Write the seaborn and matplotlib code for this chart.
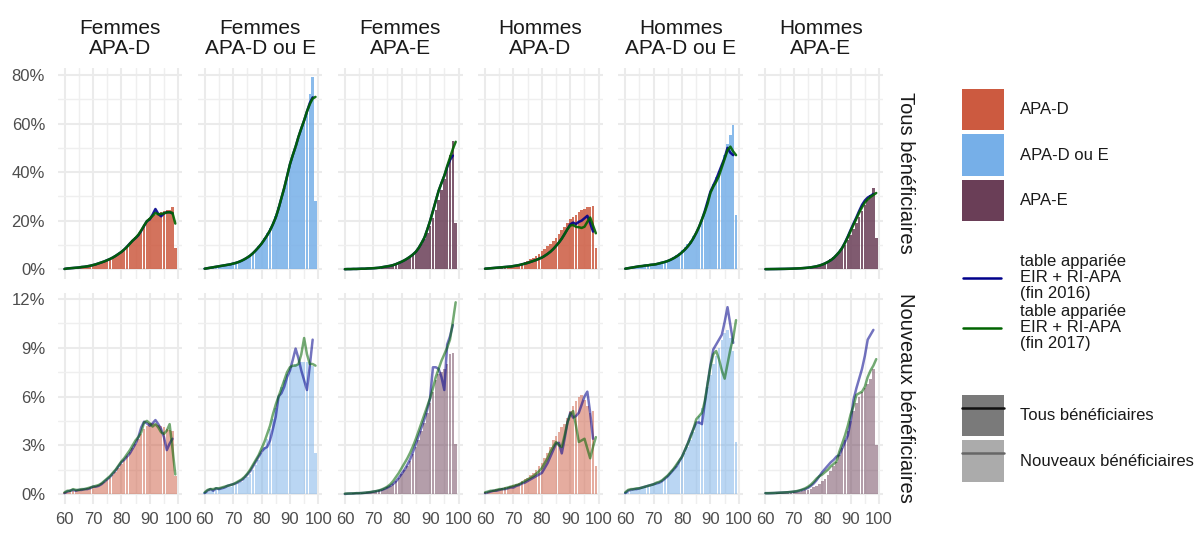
import matplotlib
matplotlib.use("Agg")
import matplotlib.pyplot as plt
import seaborn as sns
from matplotlib.patches import Patch
from matplotlib.lines import Line2D
from matplotlib.legend_handler import HandlerTuple
from matplotlib.ticker import MultipleLocator, FuncFormatter

# ---------------- data (values in %) ----------------
ages_bar = list(range(60, 100))   # bars
ages_2016 = list(range(60, 99))   # table appariée fin 2016
ages_2017 = list(range(60, 100))  # table appariée fin 2017

sexes = ["Femmes", "Hommes"]
apa_types = ["APA-D", "APA-D ou E", "APA-E"]
row_labels = ["Tous bénéficiaires", "Nouveaux bénéficiaires"]

# --- Tous bénéficiaires ---
bar_F_D_tous = [0.2,0.3,0.4,0.5,0.6,0.7,0.9,1.0,1.2,1.5, 1.8,2.1,2.5,2.9,3.3,3.8,4.4,5.0,5.7,6.4,
                7.2,8.2,9.3,10.6,12.0,13.2,14.5,16.2,18.3,20.0, 21.0,21.8,22.5,23.0,23.5,23.8,24.2,24.5,25.8,8.6]
l16_F_D_tous = [0.1,0.3,0.4,0.5,0.6,0.7,0.9,1.0,1.2,1.4, 1.7,2.0,2.4,2.8,3.2,3.7,4.2,4.8,5.5,6.3,
                7.1,8.1,9.3,10.6,11.8,12.8,14.0,15.8,17.8,19.8, 20.5,22.5,24.8,22.8,21.8,23.0,23.5,23.5,23.0]
l17_F_D_tous = [0.1,0.3,0.4,0.5,0.6,0.7,0.9,1.0,1.2,1.4, 1.7,2.0,2.4,2.8,3.2,3.7,4.2,4.8,5.5,6.3,
                7.1,8.1,9.2,10.5,11.8,12.9,14.2,16.0,18.0,19.8, 20.8,22.0,23.2,22.6,22.8,23.0,23.4,23.5,23.2,18.8]

bar_F_DE_tous = [0.3,0.5,0.6,0.8,1.0,1.2,1.4,1.6,1.8,2.0, 2.3,2.7,3.2,3.8,4.4,5.2,6.0,7.0,8.2,9.5,
                 11.0,12.8,14.8,17.0,19.5,22.0,25.5,29.5,33.5,38.5, 43.0,46.5,50.0,54.0,58.0,61.5,65.5,72.0,79.0,28.0]
l16_F_DE_tous = [0.2,0.4,0.6,0.8,1.0,1.2,1.4,1.6,1.8,2.0, 2.3,2.6,3.0,3.5,4.1,4.8,5.6,6.6,7.8,9.1,
                 10.5,12.2,14.0,16.0,18.5,21.3,25.0,29.3,33.5,38.3, 43.2,47.0,50.5,54.5,58.0,61.3,65.0,68.5,70.8]
l17_F_DE_tous = [0.2,0.4,0.6,0.8,1.0,1.2,1.4,1.6,1.8,2.0, 2.3,2.6,3.0,3.5,4.1,4.8,5.6,6.6,7.8,9.1,
                 10.5,12.2,14.0,16.0,18.5,21.3,25.0,29.3,33.5,38.3, 43.2,47.0,50.5,54.5,58.0,61.3,65.0,68.0,70.3,71.0]

bar_F_E_tous = [0.05,0.05,0.1,0.1,0.1,0.15,0.2,0.2,0.3,0.3, 0.4,0.5,0.6,0.7,0.9,1.1,1.3,1.6,2.0,2.4,
                2.9,3.5,4.2,5.1,6.1,7.3,8.8,10.5,12.6,15.0, 17.8,21.0,24.5,28.5,32.5,37.0,41.5,47.0,53.0,19.0]
l16_F_E_tous = [0.0,0.05,0.05,0.1,0.1,0.15,0.2,0.2,0.3,0.35, 0.4,0.5,0.6,0.8,1.0,1.2,1.4,1.7,2.1,2.6,
                3.1,3.7,4.4,5.2,6.1,7.2,8.8,10.8,13.0,16.3, 19.9,24.0,28.2,32.3,35.5,38.5,42.0,45.0,46.8]
l17_F_E_tous = [0.0,0.05,0.05,0.1,0.1,0.15,0.2,0.2,0.3,0.35, 0.4,0.5,0.6,0.8,1.0,1.2,1.4,1.7,2.1,2.6,
                3.1,3.7,4.4,5.2,6.1,7.2,8.8,10.8,13.0,16.3, 19.9,24.0,28.2,32.3,35.5,38.5,42.5,46.0,49.5,52.5]

bar_H_D_tous = [0.3,0.4,0.5,0.6,0.7,0.8,0.9,1.0,1.2,1.4, 1.6,1.9,2.2,2.6,3.0,3.5,4.1,4.8,5.5,6.4,
                7.3,8.3,9.4,10.5,11.8,13.0,14.5,16.0,17.5,19.0, 20.5,21.5,22.5,23.5,24.3,25.0,25.5,25.8,26.0,8.8]
l16_H_D_tous = [0.2,0.3,0.4,0.5,0.6,0.7,0.8,0.9,1.0,1.1, 1.3,1.5,1.7,2.0,2.3,2.6,3.0,3.4,3.8,4.3,
                4.8,5.5,6.3,7.2,8.3,9.6,11.0,12.6,14.5,16.5, 18.5,19.2,18.6,19.5,20.0,21.0,22.0,19.0,15.5]
l17_H_D_tous = [0.2,0.3,0.4,0.5,0.6,0.7,0.8,0.9,1.0,1.1, 1.3,1.5,1.7,2.0,2.3,2.6,3.0,3.4,3.8,4.3,
                4.8,5.5,6.3,7.2,8.3,9.6,11.0,12.6,14.5,16.5, 18.0,18.2,17.5,17.3,17.0,17.5,19.5,21.3,18.0,14.8]

bar_H_DE_tous = [0.3,0.4,0.6,0.7,0.9,1.0,1.2,1.4,1.6,1.8, 2.0,2.3,2.6,2.9,3.3,3.8,4.4,5.1,5.9,6.8,
                 7.8,9.0,10.3,11.8,13.5,15.3,17.5,20.5,23.5,27.5, 31.5,35.0,38.0,40.5,43.5,47.0,51.5,55.5,59.5,22.5]
l16_H_DE_tous = [0.2,0.4,0.6,0.8,1.0,1.2,1.3,1.5,1.6,1.8, 1.9,2.1,2.4,2.7,3.0,3.4,3.9,4.5,5.2,6.0,
                 7.0,8.1,9.4,10.9,12.8,15.0,17.5,20.5,24.0,28.0, 32.0,34.5,37.0,40.0,43.0,46.0,50.0,48.0,47.0]
l17_H_DE_tous = [0.2,0.4,0.6,0.8,1.0,1.2,1.3,1.5,1.6,1.8, 1.9,2.1,2.4,2.7,3.0,3.4,3.9,4.5,5.2,6.0,
                 7.0,8.1,9.4,10.9,12.8,15.0,17.5,20.5,23.5,27.0, 31.5,34.0,36.0,38.5,42.0,45.5,49.0,50.5,48.5,47.0]

bar_H_E_tous = [0.05,0.05,0.1,0.1,0.1,0.15,0.15,0.2,0.2,0.3, 0.35,0.4,0.5,0.6,0.7,0.8,1.0,1.2,1.5,1.8,
                2.2,2.7,3.3,4.0,4.9,5.9,7.1,8.5,10.1,12.0, 14.2,16.5,19.0,21.5,24.0,26.5,28.5,30.5,33.5,13.0]
l16_H_E_tous = [0.02,0.03,0.05,0.06,0.08,0.1,0.12,0.14,0.17,0.2, 0.25,0.3,0.36,0.43,0.52,0.63,0.78,0.97,1.2,1.5,
                1.9,2.4,3.0,3.7,4.6,5.8,7.1,8.8,11.0,13.5, 16.2,18.8,21.3,24.0,26.5,28.3,29.5,30.2,31.0]
l17_H_E_tous = [0.02,0.03,0.05,0.06,0.08,0.1,0.12,0.14,0.17,0.2, 0.25,0.3,0.36,0.43,0.52,0.63,0.78,0.97,1.2,1.5,
                1.9,2.4,3.0,3.7,4.6,5.8,7.1,8.7,10.8,13.2, 15.8,18.3,20.8,23.3,25.5,27.5,28.8,29.8,30.6,31.4]

# --- Nouveaux bénéficiaires ---
bar_F_D_nouv = [0.1,0.15,0.2,0.2,0.25,0.25,0.3,0.3,0.35,0.4, 0.45,0.5,0.55,0.65,0.75,0.85,1.0,1.15,1.35,1.6,
                1.85,2.1,2.35,2.6,2.85,3.1,3.4,3.7,4.0,4.2, 4.35,4.35,4.3,4.25,4.2,4.1,4.0,3.95,3.85,1.1]
l16_F_D_nouv = [0.05,0.15,0.2,0.25,0.2,0.25,0.25,0.3,0.3,0.35, 0.45,0.45,0.5,0.6,0.75,0.9,1.05,1.25,1.45,1.7,
                1.95,2.1,2.3,2.5,2.8,3.1,3.5,4.1,4.45,4.35, 4.2,4.35,4.55,4.3,4.0,3.5,2.7,3.1,3.4]
l17_F_D_nouv = [0.1,0.2,0.2,0.3,0.25,0.25,0.3,0.3,0.35,0.4, 0.45,0.5,0.55,0.65,0.8,0.95,1.1,1.3,1.5,1.75,
                2.0,2.2,2.45,2.7,3.0,3.3,3.5,3.8,4.4,4.5, 4.35,4.15,4.3,4.1,3.8,3.7,3.9,4.3,2.8,1.2]

bar_F_DE_nouv = [0.1,0.15,0.2,0.25,0.25,0.3,0.3,0.35,0.4,0.45, 0.5,0.55,0.65,0.75,0.9,1.05,1.25,1.5,1.8,2.1,
                 2.5,2.9,3.4,4.0,4.6,5.3,6.0,6.6,7.0,7.4, 7.7,7.9,8.0,8.0,8.1,8.1,8.1,8.0,7.9,2.5]
l16_F_DE_nouv = [0.05,0.2,0.3,0.2,0.35,0.3,0.35,0.4,0.5,0.55, 0.6,0.65,0.75,0.85,1.0,1.2,1.4,1.7,2.0,2.3,
                 2.6,2.8,2.9,3.3,4.0,4.75,6.0,6.2,6.6,7.2, 7.6,8.25,8.95,8.35,7.6,7.0,6.4,7.9,9.5]
l17_F_DE_nouv = [0.1,0.25,0.3,0.3,0.35,0.35,0.4,0.45,0.5,0.55, 0.6,0.7,0.8,0.9,1.05,1.25,1.5,1.8,2.1,2.4,
                 2.8,3.2,3.7,4.2,4.9,5.5,6.0,6.5,7.0,7.5, 7.8,7.9,7.9,8.0,8.6,9.6,8.6,8.0,8.0,7.9]

bar_F_E_nouv = [0.02,0.03,0.03,0.04,0.05,0.05,0.06,0.08,0.1,0.12, 0.15,0.18,0.22,0.27,0.33,0.4,0.5,0.62,0.78,0.98,
                1.2,1.45,1.75,2.05,2.45,2.9,3.35,3.85,4.4,5.0, 5.6,6.3,7.0,7.4,7.5,7.7,8.0,8.6,8.7,3.1]
l16_F_E_nouv = [0.0,0.02,0.03,0.03,0.05,0.05,0.06,0.07,0.09,0.11, 0.14,0.17,0.2,0.25,0.32,0.4,0.5,0.62,0.78,1.0,
                1.25,1.5,1.8,2.15,2.6,3.1,3.6,4.1,4.6,5.2, 5.9,7.8,7.8,7.7,7.2,6.4,9.2,9.7,10.4]
l17_F_E_nouv = [0.02,0.03,0.03,0.04,0.05,0.05,0.06,0.08,0.1,0.12, 0.15,0.18,0.22,0.28,0.36,0.46,0.6,0.8,1.05,1.3,
                1.6,1.9,2.2,2.55,2.95,3.4,3.9,4.4,4.9,5.4, 5.9,6.5,7.2,7.7,8.2,8.6,9.0,9.5,10.6,11.8]

bar_H_D_nouv = [0.1,0.15,0.2,0.25,0.3,0.3,0.35,0.4,0.45,0.5, 0.55,0.6,0.7,0.8,0.9,1.0,1.15,1.3,1.5,1.7,
                1.9,2.2,2.5,2.9,3.3,3.6,3.8,4.1,4.3,4.7, 5.1,5.4,5.7,6.0,6.1,5.8,5.4,5.0,5.1,1.7]
l16_H_D_nouv = [0.05,0.1,0.15,0.2,0.2,0.25,0.3,0.3,0.35,0.4, 0.4,0.5,0.55,0.65,0.7,0.8,0.9,1.0,1.1,1.2,
                1.3,1.6,1.9,2.3,2.7,3.1,3.15,2.5,3.4,4.4, 5.0,4.7,4.8,5.0,5.5,6.0,6.3,5.0,3.4]
l17_H_D_nouv = [0.1,0.15,0.2,0.2,0.25,0.3,0.3,0.35,0.4,0.45, 0.5,0.55,0.6,0.7,0.8,0.9,1.0,1.1,1.25,1.4,
                1.6,1.9,2.2,2.6,2.9,3.2,3.0,2.9,3.6,4.4, 4.9,5.1,4.2,3.2,3.3,3.4,2.8,2.2,2.9,3.5]

bar_H_DE_nouv = [0.1,0.15,0.2,0.25,0.3,0.3,0.35,0.4,0.45,0.5, 0.55,0.6,0.7,0.8,0.95,1.1,1.3,1.5,1.7,2.0,
                 2.2,2.5,2.9,3.3,3.8,4.3,4.8,5.3,5.9,6.6, 7.3,8.0,8.5,9.0,9.5,9.9,10.1,9.6,8.8,3.2]
l16_H_DE_nouv = [0.05,0.2,0.25,0.3,0.3,0.35,0.4,0.45,0.5,0.55, 0.6,0.65,0.7,0.8,0.95,1.1,1.3,1.5,1.7,2.0,
                 2.3,2.7,3.1,3.6,4.0,4.4,4.4,4.3,5.6,6.8, 7.95,8.9,9.2,9.5,9.8,10.6,11.5,10.4,9.3]
l17_H_DE_nouv = [0.1,0.25,0.3,0.3,0.35,0.35,0.4,0.45,0.5,0.55, 0.6,0.7,0.75,0.85,1.0,1.15,1.35,1.55,1.8,2.05,
                 2.3,2.7,3.1,3.5,4.0,4.6,4.8,5.0,5.7,6.8, 7.85,8.6,8.8,8.3,7.6,7.1,8.0,8.9,9.6,10.7]

bar_H_E_nouv = [0.02,0.02,0.03,0.03,0.04,0.05,0.05,0.06,0.07,0.08, 0.1,0.12,0.15,0.18,0.22,0.27,0.33,0.4,0.5,0.62,
                0.78,0.95,1.15,1.4,1.7,2.0,2.4,2.85,3.35,3.9, 4.5,5.1,5.6,6.0,6.3,6.5,6.8,7.1,7.7,3.0]
l16_H_E_nouv = [0.05,0.05,0.05,0.06,0.07,0.08,0.09,0.1,0.11,0.12, 0.14,0.16,0.2,0.25,0.3,0.38,0.5,0.65,0.85,1.1,
                1.35,1.55,1.75,1.95,2.1,2.3,2.4,2.8,3.2,3.6, 4.5,5.8,6.5,7.1,7.7,8.5,9.5,9.8,10.1]
l17_H_E_nouv = [0.05,0.05,0.06,0.06,0.07,0.08,0.09,0.1,0.11,0.13, 0.15,0.18,0.22,0.28,0.35,0.45,0.58,0.75,0.95,1.1,
                1.2,1.35,1.5,1.7,1.85,2.0,2.6,3.1,3.6,4.2, 4.9,5.4,6.1,6.2,6.3,6.6,7.2,7.6,7.9,8.3]

bars = [[bar_F_D_tous, bar_F_DE_tous, bar_F_E_tous, bar_H_D_tous, bar_H_DE_tous, bar_H_E_tous],
        [bar_F_D_nouv, bar_F_DE_nouv, bar_F_E_nouv, bar_H_D_nouv, bar_H_DE_nouv, bar_H_E_nouv]]
lines16 = [[l16_F_D_tous, l16_F_DE_tous, l16_F_E_tous, l16_H_D_tous, l16_H_DE_tous, l16_H_E_tous],
           [l16_F_D_nouv, l16_F_DE_nouv, l16_F_E_nouv, l16_H_D_nouv, l16_H_DE_nouv, l16_H_E_nouv]]
lines17 = [[l17_F_D_tous, l17_F_DE_tous, l17_F_E_tous, l17_H_D_tous, l17_H_DE_tous, l17_H_E_tous],
           [l17_F_D_nouv, l17_F_DE_nouv, l17_F_E_nouv, l17_H_D_nouv, l17_H_DE_nouv, l17_H_E_nouv]]

# ---------------- style ----------------
fill_colors = {"APA-D": "#CC5A40", "APA-D ou E": "#76AFE8", "APA-E": "#6A3E57"}
col_2016 = "#00008B"
col_2017 = "#006400"
row_alpha = [0.85, 0.5]
line_alpha = [0.9, 0.55]

sns.set_theme(style="white")
FAM = ["Liberation Sans", "DejaVu Sans"]
plt.rcParams["font.family"] = FAM

fig, axes = plt.subplots(2, 6, figsize=(11.99, 5.33), dpi=100)
fig.subplots_adjust(left=0.048, right=0.7366, top=0.8726, bottom=0.0552,
                    wspace=0.124, hspace=0.066)

ylims = [(-3.95, 82.95), (-0.59, 12.39)]
ymajor = [20, 3]
yminor = [10, 1.5]

for r in range(2):
    for c in range(6):
        ax = axes[r, c]
        sex = sexes[c // 3]
        typ = apa_types[c % 3]
        sns.barplot(x=ages_bar, y=bars[r][c], native_scale=True, width=0.9,
                    color=fill_colors[typ], saturation=1, alpha=row_alpha[r],
                    errorbar=None, linewidth=0, ax=ax, zorder=2)
        sns.lineplot(x=ages_2016, y=lines16[r][c], color=col_2016, linewidth=1.8,
                     alpha=line_alpha[r], ax=ax, zorder=3)
        sns.lineplot(x=ages_2017, y=lines17[r][c], color=col_2017, linewidth=1.8,
                     alpha=line_alpha[r], ax=ax, zorder=4)
        ax.set_xlim(57.55, 101.45)
        ax.set_ylim(*ylims[r])
        ax.xaxis.set_major_locator(MultipleLocator(10))
        ax.xaxis.set_minor_locator(MultipleLocator(5))
        ax.yaxis.set_major_locator(MultipleLocator(ymajor[r]))
        ax.yaxis.set_minor_locator(MultipleLocator(yminor[r]))
        ax.yaxis.set_major_formatter(FuncFormatter(lambda v, p: f"{v:.0f}%"))
        ax.set_axisbelow(True)
        ax.grid(which="major", color="#EBEBEB", linewidth=1.5)
        ax.grid(which="minor", color="#EFEFEF", linewidth=1.0)
        for s in ax.spines.values():
            s.set_visible(False)
        ax.tick_params(which="both", length=0, labelsize=12, labelcolor="#4D4D4D")
        ax.tick_params(axis="y", pad=9)
        ax.tick_params(axis="x", pad=6)
        ax.set_xlabel("")
        ax.set_ylabel("")
        if c > 0:
            ax.tick_params(axis="y", labelleft=False)
        if r == 0:
            ax.tick_params(axis="x", labelbottom=False)
            ax.set_title(f"{sex}\n{typ}", fontsize=15, pad=10, linespacing=1.1,
                         color="#1A1A1A")
        if c == 5:
            ax.text(1.175, 0.5, row_labels[r], transform=ax.transAxes, rotation=270,
                    ha="center", va="center", fontsize=14.5, color="#1A1A1A")

# ---------------- legends ----------------
W, H = 1199, 533
fs = 12
leg1 = fig.legend(handles=[Patch(facecolor=fill_colors[t], edgecolor="none") for t in apa_types],
                  labels=apa_types, loc="upper left",
                  bbox_to_anchor=(962 / W, 1 - 89 / H), frameon=False, fontsize=fs,
                  handlelength=2.49, handleheight=3.45, handletextpad=1.0,
                  labelspacing=0.24, borderpad=0, borderaxespad=0)

leg2 = fig.legend(handles=[Line2D([], [], color=col_2016, lw=1.8),
                           Line2D([], [], color=col_2017, lw=1.8)],
                  labels=["table appariée\nEIR + RI-APA\n(fin 2016)",
                          "table appariée\nEIR + RI-APA\n(fin 2017)"],
                  loc="upper left", bbox_to_anchor=(963 / W, 1 - 254 / H), frameon=False,
                  fontsize=fs, handlelength=2.3, handletextpad=1.1, labelspacing=0.15,
                  borderpad=0, borderaxespad=0)
for t in leg2.get_texts():
    t.set_linespacing(1.1)

leg3 = fig.legend(handles=[(Patch(facecolor="#7A7A7A", edgecolor="none"),
                            Line2D([], [], color="#111111", lw=1.8)),
                           (Patch(facecolor="#ABABAB", edgecolor="none"),
                            Line2D([], [], color="#666666", lw=1.8))],
                  labels=["Tous bénéficiaires", "Nouveaux bénéficiaires"],
                  handler_map={tuple: HandlerTuple(ndivide=1, pad=0)},
                  loc="upper left", bbox_to_anchor=(962 / W, 1 - 395 / H), frameon=False,
                  fontsize=fs, handlelength=2.49, handleheight=3.45, handletextpad=1.0,
                  labelspacing=0.24, borderpad=0, borderaxespad=0)
for leg in (leg1, leg2, leg3):
    for t in leg.get_texts():
        t.set_color("#1A1A1A")

fig.savefig("out.png", dpi=100)
